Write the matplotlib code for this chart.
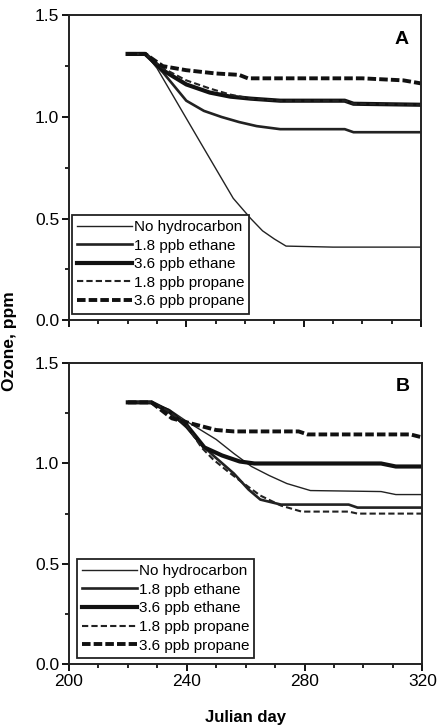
import matplotlib.pyplot as plt
from matplotlib.ticker import MultipleLocator

plt.rcParams['font.family'] = ['Liberation Sans', 'DejaVu Sans']

labels = ["No hydrocarbon", "1.8 ppb ethane", "3.6 ppb ethane",
          "1.8 ppb propane", "3.6 ppb propane"]

# panel A
a_none_x = [220, 226, 230, 245, 256, 262, 266, 270, 274, 290, 320]
a_none_y = [1.31, 1.31, 1.24, 0.87, 0.60, 0.50, 0.44, 0.40, 0.365, 0.36, 0.36]
a_eth18_x = [220, 226, 232, 240, 246, 252, 258, 264, 272, 294, 297, 320]
a_eth18_y = [1.31, 1.31, 1.22, 1.08, 1.03, 1.00, 0.975, 0.955, 0.94, 0.94, 0.925, 0.925]
a_eth36_x = [220, 226, 232, 240, 248, 255, 262, 272, 294, 297, 320]
a_eth36_y = [1.31, 1.31, 1.23, 1.16, 1.12, 1.10, 1.09, 1.08, 1.08, 1.065, 1.06]
a_pro18_x = [220, 226, 232, 240, 248, 255, 262, 272, 294, 297, 320]
a_pro18_y = [1.31, 1.31, 1.24, 1.18, 1.14, 1.11, 1.09, 1.08, 1.08, 1.065, 1.06]
a_pro36_x = [220, 226, 232, 240, 250, 258, 261, 300, 314, 320]
a_pro36_y = [1.31, 1.31, 1.25, 1.23, 1.214, 1.207, 1.19, 1.19, 1.18, 1.165]

# panel B
b_none_x = [220, 228, 234, 240, 250, 256, 262, 268, 274, 282, 306, 311, 320]
b_none_y = [1.305, 1.305, 1.27, 1.21, 1.12, 1.05, 0.985, 0.94, 0.90, 0.865, 0.86, 0.845, 0.845]
b_eth18_x = [220, 228, 234, 240, 244, 249, 256, 261, 265, 272, 295, 298, 320]
b_eth18_y = [1.305, 1.305, 1.26, 1.18, 1.11, 1.04, 0.95, 0.87, 0.82, 0.795, 0.795, 0.78, 0.78]
b_eth36_x = [220, 228, 234, 240, 246, 252, 258, 263, 306, 311, 320]
b_eth36_y = [1.305, 1.305, 1.26, 1.19, 1.08, 1.04, 1.01, 1.0, 1.0, 0.985, 0.985]
b_pro18_x = [220, 228, 234, 240, 245, 249, 254, 258, 265, 272, 279, 295, 298, 320]
b_pro18_y = [1.305, 1.305, 1.26, 1.19, 1.08, 1.02, 0.96, 0.915, 0.84, 0.79, 0.76, 0.76, 0.75, 0.75]
b_pro36_x = [220, 228, 235, 244, 250, 256, 278, 281, 316, 320]
b_pro36_y = [1.305, 1.305, 1.225, 1.19, 1.167, 1.16, 1.16, 1.145, 1.145, 1.13]

styles = [dict(color="#222222", lw=1.0, ls="-"),
          dict(color="#222222", lw=1.9, ls="-"),
          dict(color="#111111", lw=3.0, ls="-"),
          dict(color="#222222", lw=1.5, ls=(0, (3, 1.5))),
          dict(color="#111111", lw=2.8, ls=(0, (2.2, 0.8)))]

fig = plt.figure(figsize=(4.39, 7.28), dpi=100)
ax_a = fig.add_axes([0.157, 0.560, 0.802, 0.419])
ax_b = fig.add_axes([0.157, 0.088, 0.805, 0.413])

panels = [
    (ax_a, "A", [(a_none_x, a_none_y), (a_eth18_x, a_eth18_y), (a_eth36_x, a_eth36_y),
                 (a_pro18_x, a_pro18_y), (a_pro36_x, a_pro36_y)], (0.008, 0.022)),
    (ax_b, "B", [(b_none_x, b_none_y), (b_eth18_x, b_eth18_y), (b_eth36_x, b_eth36_y),
                 (b_pro18_x, b_pro18_y), (b_pro36_x, b_pro36_y)], (0.022, 0.02)),
]

for ax, letter, series, anchor in panels:
    for (x, y), lab, st in zip(series, labels, styles):
        ax.plot(x, y, label=lab, **st)
    ax.set_xlim(200, 320)
    ax.set_ylim(0, 1.5)
    ax.xaxis.set_major_locator(MultipleLocator(40))
    ax.xaxis.set_minor_locator(MultipleLocator(10))
    ax.yaxis.set_major_locator(MultipleLocator(0.5))
    ax.yaxis.set_minor_locator(MultipleLocator(0.25))
    ax.yaxis.set_major_formatter(plt.FormatStrFormatter("%.1f"))
    ax.tick_params(which="major", direction="out", length=5, width=1.3, labelsize=12.5,
                   pad=2)
    ax.tick_params(which="minor", direction="out", length=3, width=1.2)
    for sp in ax.spines.values():
        sp.set_linewidth(1.4)
        sp.set_color("#222222")
    ax.text(0.965, 0.95, letter, transform=ax.transAxes, ha="right", va="top",
            fontsize=14, fontweight="bold")
    leg = ax.legend(loc="lower left", bbox_to_anchor=anchor, fontsize=11,
                    handlelength=3.6, handletextpad=0.1, labelspacing=0.3,
                    borderpad=0.35, fancybox=False, framealpha=1, borderaxespad=0)
    leg.get_frame().set_edgecolor("#222222")
    leg.get_frame().set_linewidth(1.3)

ax_a.tick_params(labelbottom=False)
fig.text(0.56, 0.015, "Julian day", ha="center", va="center",
         fontsize=12, fontweight="bold")
fig.text(0.022, 0.532, "Ozone, ppm", rotation=90, ha="center", va="center",
         fontsize=12.5, fontweight="bold")

fig.savefig("out.png", dpi=100)
